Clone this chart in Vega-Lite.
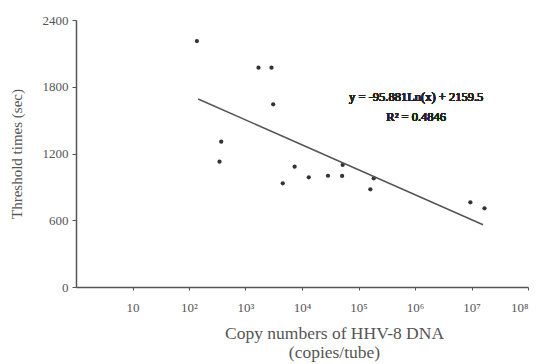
{
  "$schema": "https://vega.github.io/schema/vega-lite/v6.json",
  "autosize": {"type": "none"},
  "width": 452,
  "height": 267,
  "padding": {"left": 76, "top": 20, "right": 11, "bottom": 77},
  "background": "white",
  "config": {
    "view": {"stroke": null},
    "font": "Liberation Serif",
    "axis": {
      "grid": false,
      "domainColor": "#555",
      "tickColor": "#555",
      "labelColor": "#555",
      "titleColor": "#555",
      "labelFont": "Liberation Serif",
      "titleFont": "Liberation Serif",
      "titleFontWeight": "normal"
    }
  },
  "data": {
    "values": [
      {"copies": 138, "time": 2211},
      {"copies": 1698, "time": 1971},
      {"copies": 2884, "time": 1971},
      {"copies": 3090, "time": 1642},
      {"copies": 372, "time": 1306},
      {"copies": 347, "time": 1126},
      {"copies": 4571, "time": 932},
      {"copies": 7413, "time": 1081},
      {"copies": 13183, "time": 986},
      {"copies": 28840, "time": 1000},
      {"copies": 51286, "time": 998},
      {"copies": 52481, "time": 1097},
      {"copies": 186209, "time": 977},
      {"copies": 162181, "time": 878},
      {"copies": 9549926, "time": 761},
      {"copies": 16982437, "time": 707}
    ]
  },
  "layer": [
    {
      "mark": {"type": "circle", "size": 18, "color": "#333", "opacity": 1},
      "encoding": {
        "x": {
          "field": "copies",
          "type": "quantitative",
          "scale": {"type": "log", "domain": [1, 100000000], "nice": false},
          "axis": {
            "values": [10, 100, 1000, 10000, 100000, 1000000, 10000000, 100000000],
            "labelExpr": "datum.value == 10 ? '10' : '10' + substring('⁰¹²³⁴⁵⁶⁷⁸', round(log(datum.value)/LN10), round(log(datum.value)/LN10) + 1)",
            "labelFontSize": 13,
            "labelPadding": 11,
            "tickSize": 3,
            "domainWidth": 1.5,
            "title": ["Copy numbers of HHV-8 DNA", "(copies/tube)"],
            "titleFontSize": 17.5,
            "titleLineHeight": 19,
            "titleX": 258,
            "titleY": 51,
            "titleBaseline": "alphabetic"
          }
        },
        "y": {
          "field": "time",
          "type": "quantitative",
          "scale": {"domain": [0, 2400], "nice": false},
          "axis": {
            "values": [0, 600, 1200, 1800, 2400],
            "format": "d",
            "labelFontSize": 13,
            "labelPadding": 4,
            "tickSize": 4,
            "domainWidth": 1.5,
            "title": "Threshold times (sec)",
            "titleFontSize": 15,
            "titlePadding": 18
          }
        }
      }
    },
    {
      "data": {"values": [{"copies": 145, "time": 1690}, {"copies": 16000000, "time": 560}]},
      "mark": {"type": "line", "color": "#555", "strokeWidth": 1.5},
      "encoding": {
        "x": {"field": "copies", "type": "quantitative"},
        "y": {"field": "time", "type": "quantitative"}
      }
    },
    {
      "mark": {"type": "text", "font": "Liberation Serif", "fontSize": 12.5, "color": "#222", "align": "center", "baseline": "middle", "text": "y = -95.881Ln(x) + 2159.5"},
      "encoding": {
        "x": {"datum": 1050000, "type": "quantitative"},
        "y": {"datum": 1710, "type": "quantitative"}
      }
    },
    {
      "mark": {"type": "text", "font": "Liberation Serif", "fontSize": 12.5, "color": "#222", "align": "center", "baseline": "middle", "text": "R² = 0.4846"},
      "encoding": {
        "x": {"datum": 1050000, "type": "quantitative"},
        "y": {"datum": 1530, "type": "quantitative"}
      }
    }
  ]
}
